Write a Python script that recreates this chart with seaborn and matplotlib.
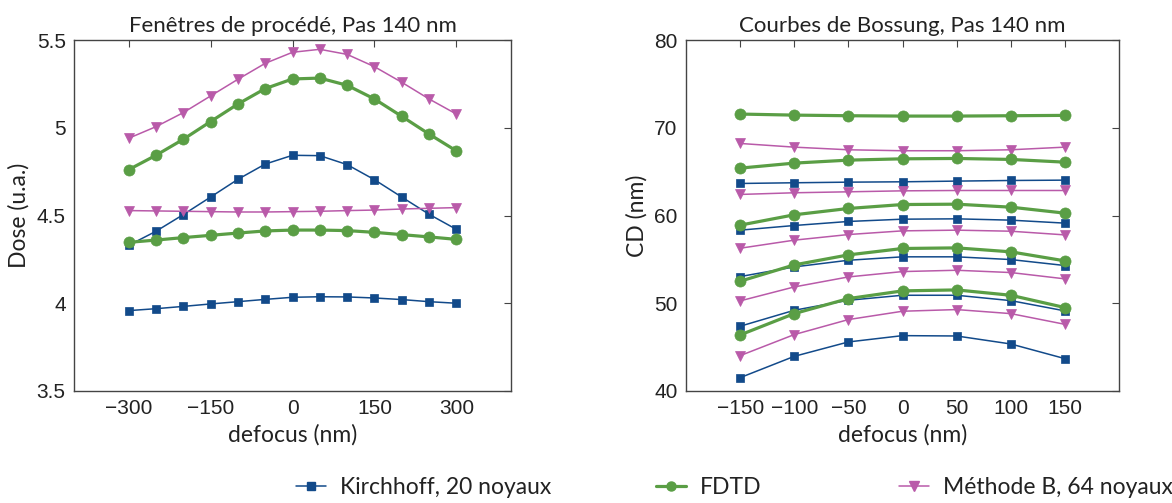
import numpy as np
import pandas as pd
import matplotlib
matplotlib.use("Agg")
import matplotlib.pyplot as plt
import seaborn as sns
from matplotlib.lines import Line2D

# ---------------- data ----------------
defocus_left = [-300, -250, -200, -150, -100, -50, 0, 50, 100, 150, 200, 250, 300]

kirch_high = [4.33, 4.41, 4.505, 4.605, 4.706, 4.793, 4.843, 4.841, 4.790, 4.704, 4.605, 4.507, 4.421]
kirch_low = [3.958, 3.969, 3.982, 3.996, 4.009, 4.022, 4.034, 4.037, 4.036, 4.030, 4.021, 4.009, 4.000]
fdtd_high = [4.761, 4.843, 4.934, 5.035, 5.135, 5.223, 5.278, 5.283, 5.242, 5.164, 5.065, 4.964, 4.868]
fdtd_low = [4.347, 4.360, 4.374, 4.387, 4.400, 4.412, 4.417, 4.417, 4.414, 4.404, 4.391, 4.378, 4.364]
methb_high = [4.94, 5.006, 5.086, 5.181, 5.276, 5.367, 5.430, 5.447, 5.418, 5.348, 5.259, 5.164, 5.078]
methb_low = [4.528, 4.526, 4.524, 4.522, 4.520, 4.520, 4.522, 4.524, 4.528, 4.531, 4.537, 4.541, 4.545]

defocus_right = [-150, -100, -50, 0, 50, 100, 150]

kirch_cd = [
    [63.65, 63.73, 63.80, 63.84, 63.92, 63.99, 64.03],
    [58.33, 58.86, 59.32, 59.58, 59.62, 59.47, 59.13],
    [53.04, 54.14, 54.90, 55.29, 55.29, 54.98, 54.30],
    [47.38, 49.20, 50.34, 50.91, 50.91, 50.30, 49.13],
    [41.52, 43.95, 45.59, 46.31, 46.27, 45.36, 43.69],
]
fdtd_cd = [
    [71.56, 71.44, 71.37, 71.33, 71.33, 71.37, 71.41],
    [65.40, 65.97, 66.31, 66.46, 66.50, 66.39, 66.08],
    [58.90, 60.08, 60.80, 61.25, 61.29, 60.95, 60.27],
    [52.51, 54.37, 55.51, 56.24, 56.31, 55.86, 54.83],
    [46.39, 48.82, 50.53, 51.41, 51.52, 50.91, 49.51],
]
methb_cd = [
    [68.21, 67.79, 67.49, 67.38, 67.38, 67.49, 67.79],
    [62.40, 62.59, 62.70, 62.81, 62.85, 62.85, 62.85],
    [56.27, 57.19, 57.83, 58.25, 58.33, 58.21, 57.79],
    [50.27, 51.86, 53.00, 53.61, 53.76, 53.50, 52.78],
    [44.03, 46.43, 48.14, 49.09, 49.28, 48.82, 47.60],
]

left_xticks = [-300, -150, 0, 150, 300]
left_xticklabels = ["\u2212300", "\u2212150", "0", "150", "300"]
left_yticks = [3.5, 4, 4.5, 5, 5.5]
left_yticklabels = ["3.5", "4", "4.5", "5", "5.5"]
right_xticks = [-150, -100, -50, 0, 50, 100, 150]
right_xticklabels = ["\u2212150", "\u2212100", "\u221250", "0", "50", "100", "150"]
right_yticks = [40, 50, 60, 70, 80]
right_yticklabels = ["40", "50", "60", "70", "80"]

labels = ["Kirchhoff, 20 noyaux", "FDTD", "Méthode B, 64 noyaux"]
title_left = "Fenêtres de procédé, Pas 140 nm"
title_right = "Courbes de Bossung, Pas 140 nm"

# ---------------- style ----------------
sns.set_theme(style="white")
TXT = ["Lato", "DejaVu Sans"]
TICKF = "Liberation Sans"
plt.rcParams["font.family"] = TXT

C_BLUE = "#124a8a"
C_GREEN = "#5a9e45"
C_MAG = "#b95aa9"
styles = {
    "kirch": dict(color=C_BLUE, marker="s", lw=1.1, ms=5.5),
    "fdtd": dict(color=C_GREEN, marker="o", lw=2.3, ms=8),
    "methb": dict(color=C_MAG, marker="v", lw=1.1, ms=7),
}

fig = plt.figure(figsize=(11.72, 5.03), dpi=100)
axL = fig.add_axes([74 / 1172, 1 - 391 / 503, 437 / 1172, 351 / 503])
axR = fig.add_axes([686 / 1172, 1 - 391 / 503, 433 / 1172, 351 / 503])


def draw(ax, x, y, key):
    st = styles[key]
    sns.lineplot(x=x, y=y, ax=ax, sort=False, estimator=None, color=st["color"],
                 marker=st["marker"], markersize=st["ms"], linewidth=st["lw"],
                 markeredgecolor=st["color"], markeredgewidth=0.5, legend=False)


# left panel
draw(axL, defocus_left, kirch_low, "kirch")
draw(axL, defocus_left, kirch_high, "kirch")
draw(axL, defocus_left, fdtd_low, "fdtd")
draw(axL, defocus_left, fdtd_high, "fdtd")
draw(axL, defocus_left, methb_low, "methb")
draw(axL, defocus_left, methb_high, "methb")

# right panel
for s in kirch_cd:
    draw(axR, defocus_right, s, "kirch")
for s in methb_cd:
    draw(axR, defocus_right, s, "methb")
for s in fdtd_cd:
    draw(axR, defocus_right, s, "fdtd")

SPINE = "#444444"
TXTC = "#222222"

axL.set_xlim(-400, 400)
axL.set_ylim(3.5, 5.5)
axL.set_xticks(left_xticks, left_xticklabels)
axL.set_yticks(left_yticks, left_yticklabels)
axL.set_ylabel("Dose (u.a.)", fontsize=16.5, color=TXTC, labelpad=5)
axL.set_title(title_left, fontsize=16, color=TXTC, pad=6)

axR.set_xlim(-200, 200)
axR.set_ylim(40, 80)
axR.set_xticks(right_xticks, right_xticklabels)
axR.set_yticks(right_yticks, right_yticklabels)
axR.set_ylabel("CD (nm)", fontsize=16.5, color=TXTC, labelpad=5)
axR.set_title(title_right, fontsize=16, color=TXTC, pad=6)

for ax in (axL, axR):
    for sp in ax.spines.values():
        sp.set_color(SPINE)
        sp.set_linewidth(1.0)
    ax.tick_params(direction="in", top=True, right=True, length=5, width=0.8,
                   color=SPINE, labelcolor=TXTC, pad=6)
    ax.set_xlabel("defocus (nm)", fontsize=16.5, color=TXTC, labelpad=4)
    for lab in ax.get_xticklabels() + ax.get_yticklabels():
        lab.set_fontfamily(TICKF)
        lab.set_fontsize(15)

# legend: three single entries placed along the bottom
handles = [
    Line2D([], [], color=C_BLUE, marker="s", lw=1.1, ms=5.5),
    Line2D([], [], color=C_GREEN, marker="o", lw=2.3, ms=6.5),
    Line2D([], [], color=C_MAG, marker="v", lw=1.1, ms=6.5),
]
starts = [291, 651, 894]
for h, lab, x0 in zip(handles, labels, starts):
    fig.legend([h], [lab], loc="center left", bbox_to_anchor=(x0 / 1172 - 0.009, 1 - 488 / 503),
               frameon=False, fontsize=16.5, handlelength=1.3, handletextpad=0.6,
               borderpad=0.2, labelcolor=TXTC)

fig.savefig("out.png", dpi=100)
